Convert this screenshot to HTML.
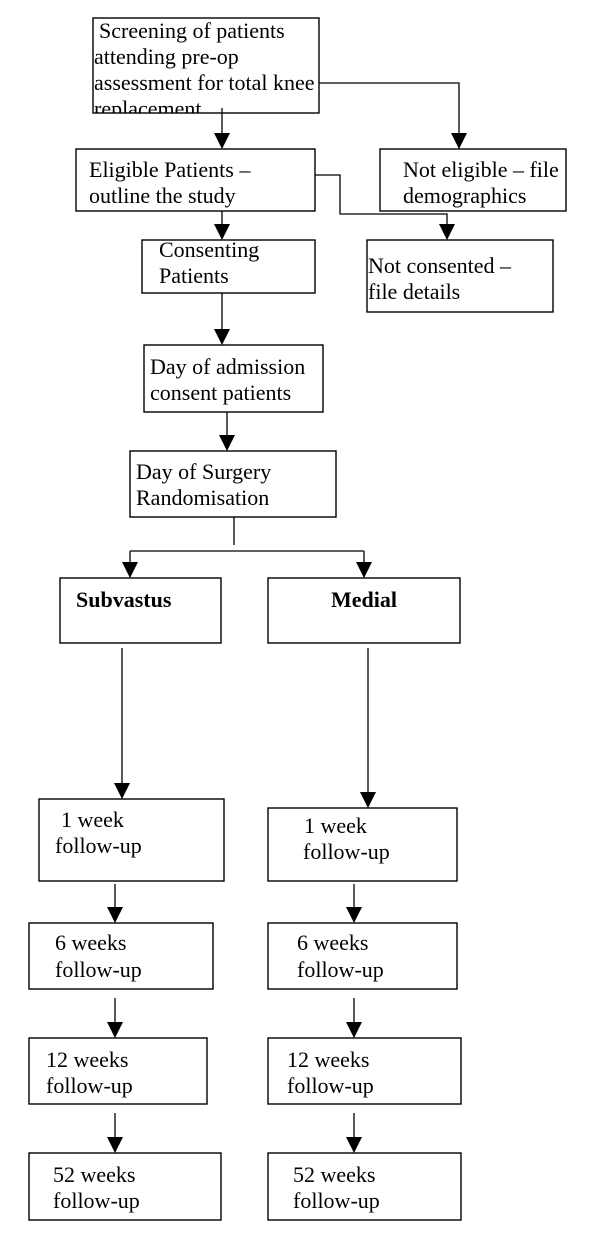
<!DOCTYPE html>
<html><head><meta charset="utf-8"><style>
html,body{margin:0;padding:0;background:#fff;}
svg{display:block;}
text{font-family:"Liberation Serif",serif;font-size:22px;fill:#000;}
</style></head><body>
<svg width="600" height="1235" viewBox="0 0 600 1235" xmlns="http://www.w3.org/2000/svg">
<defs>
<marker id="a" markerWidth="16" markerHeight="16" refX="15" refY="8" orient="auto" markerUnits="userSpaceOnUse" viewBox="0 0 16 16">
<path d="M0,0 L16,8 L0,16 Z" fill="#000"/></marker>
<clipPath id="c1"><rect x="93" y="18" width="226" height="95"/></clipPath>
</defs>
<g fill="none" stroke="#000" stroke-width="1.4">
<rect x="93" y="18" width="226" height="95"/>
<rect x="76" y="149" width="239" height="62"/>
<rect x="380" y="149" width="186" height="62"/>
<rect x="142" y="240" width="173" height="53"/>
<rect x="367" y="240" width="186" height="72"/>
<rect x="144" y="345" width="179" height="67"/>
<rect x="130" y="451" width="206" height="66"/>
<rect x="60" y="578" width="161" height="65"/>
<rect x="268" y="578" width="192" height="65"/>
<rect x="39" y="799" width="185" height="82"/>
<rect x="268" y="808" width="189" height="73"/>
<rect x="29" y="923" width="184" height="66"/>
<rect x="268" y="923" width="189" height="66"/>
<rect x="29" y="1038" width="178" height="66"/>
<rect x="268" y="1038" width="193" height="66"/>
<rect x="29" y="1153" width="192" height="67"/>
<rect x="268" y="1153" width="193" height="67"/>
</g>
<g fill="none" stroke="#000" stroke-width="1.3">
<line x1="222" y1="108" x2="222" y2="148" marker-end="url(#a)"/>
<polyline points="319,83 459,83 459,148" marker-end="url(#a)"/>
<line x1="222" y1="211" x2="222" y2="239" marker-end="url(#a)"/>
<polyline points="315,175 340,175 340,214 447,214 447,239" marker-end="url(#a)"/>
<line x1="222" y1="293" x2="222" y2="344" marker-end="url(#a)"/>
<line x1="227" y1="412" x2="227" y2="450" marker-end="url(#a)"/>
<line x1="234" y1="517" x2="234" y2="545"/>
<line x1="130" y1="551" x2="364" y2="551"/>
<line x1="130" y1="551" x2="130" y2="577" marker-end="url(#a)"/>
<line x1="364" y1="551" x2="364" y2="577" marker-end="url(#a)"/>
<line x1="122" y1="648" x2="122" y2="798" marker-end="url(#a)"/>
<line x1="368" y1="648" x2="368" y2="807" marker-end="url(#a)"/>
<line x1="115" y1="884" x2="115" y2="922" marker-end="url(#a)"/>
<line x1="354" y1="884" x2="354" y2="922" marker-end="url(#a)"/>
<line x1="115" y1="998" x2="115" y2="1037" marker-end="url(#a)"/>
<line x1="354" y1="998" x2="354" y2="1037" marker-end="url(#a)"/>
<line x1="115" y1="1113" x2="115" y2="1152" marker-end="url(#a)"/>
<line x1="354" y1="1113" x2="354" y2="1152" marker-end="url(#a)"/>
</g>
<g clip-path="url(#c1)">
<text x="99" y="38">Screening of patients</text>
<text x="94" y="64">attending pre-op</text>
<text x="94" y="90">assessment for total knee</text>
<text x="94" y="116">replacement</text>
</g>
<text x="89" y="177">Eligible Patients –</text>
<text x="89" y="203">outline the study</text>
<text x="403" y="177">Not eligible – file</text>
<text x="403" y="203">demographics</text>
<text x="159" y="257">Consenting</text>
<text x="159" y="283">Patients</text>
<text x="368" y="273">Not consented –</text>
<text x="368" y="299">file details</text>
<text x="150" y="374">Day of admission</text>
<text x="150" y="400">consent patients</text>
<text x="136" y="479">Day of Surgery</text>
<text x="136" y="505">Randomisation</text>
<text x="76" y="607" font-weight="bold">Subvastus</text>
<text x="331" y="607" font-weight="bold">Medial</text>
<text x="61" y="827">1 week</text>
<text x="55" y="853">follow-up</text>
<text x="304" y="833">1 week</text>
<text x="303" y="859">follow-up</text>
<text x="55" y="950">6 weeks</text>
<text x="55" y="977">follow-up</text>
<text x="297" y="950">6 weeks</text>
<text x="297" y="977">follow-up</text>
<text x="46" y="1067">12 weeks</text>
<text x="46" y="1093">follow-up</text>
<text x="287" y="1067">12 weeks</text>
<text x="287" y="1093">follow-up</text>
<text x="53" y="1182">52 weeks</text>
<text x="53" y="1208">follow-up</text>
<text x="293" y="1182">52 weeks</text>
<text x="293" y="1208">follow-up</text>
</svg>
</body></html>
